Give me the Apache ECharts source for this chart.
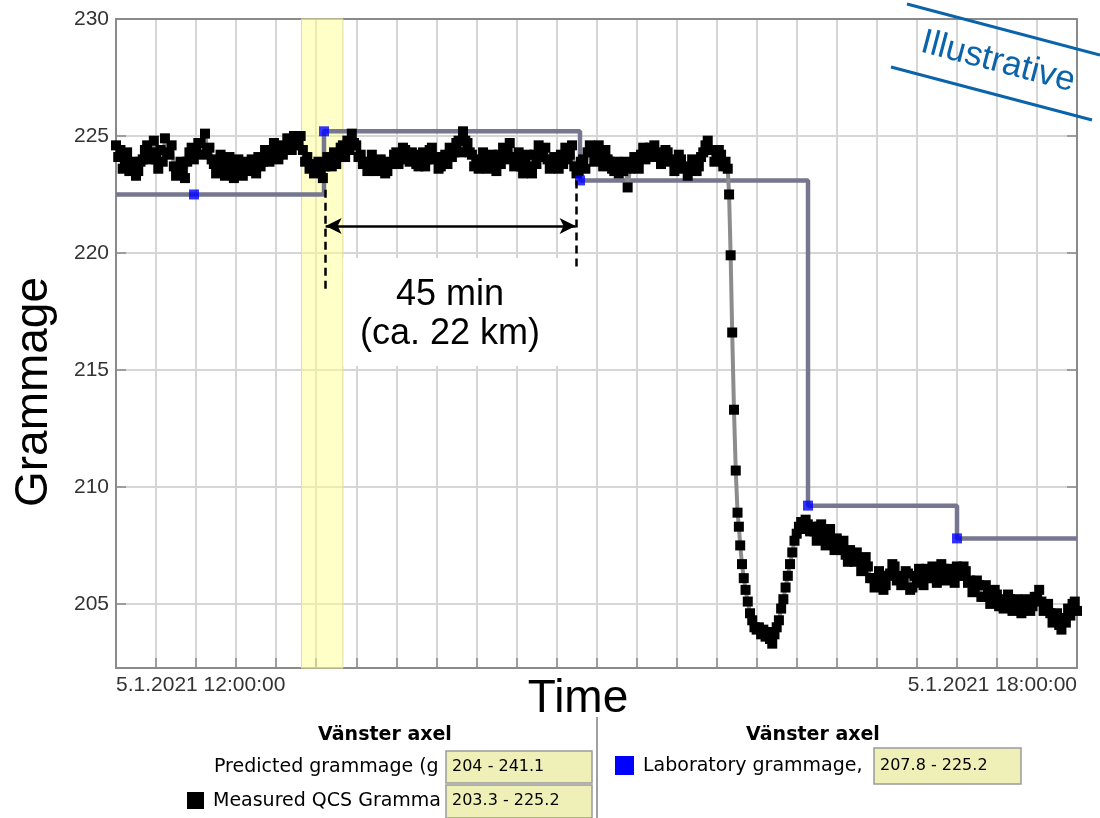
<!DOCTYPE html>
<html><head><meta charset="utf-8">
<script src="https://cdn.jsdelivr.net/npm/echarts@6/dist/echarts.min.js"></script>
<style>html,body{margin:0;padding:0;background:#fff}#c{width:1100px;height:818px}</style>
</head><body><div id="c"></div>
<script>
// x axis: seconds after 5.1.2021 12:00:00
const xTickValues = [0, 21600];
const xTickLabels = ['5.1.2021 12:00:00', '5.1.2021 18:00:00'];

const measTimes = [
0,50,100,150,200,250,300,350,400,450,500,550,600,650,700,750,800,850,900,950,
1000,1050,1100,1150,1200,1250,1300,1350,1400,1450,1500,1550,1600,1650,1700,1750,1800,1850,1900,1950,
2000,2050,2100,2150,2200,2250,2300,2350,2400,2450,2500,2550,2600,2650,2700,2750,2800,2850,2900,2950,
3000,3050,3100,3150,3200,3250,3300,3350,3400,3450,3500,3550,3600,3650,3700,3750,3800,3850,3900,3950,
4000,4050,4100,4150,4200,4250,4300,4350,4400,4450,4500,4550,4600,4650,4700,4750,4800,4850,4900,4950,
5000,5050,5100,5150,5200,5250,5300,5350,5400,5450,5500,5550,5600,5650,5700,5750,5800,5850,5900,5950,
6000,6050,6100,6150,6200,6250,6300,6350,6400,6450,6500,6550,6600,6650,6700,6750,6800,6850,6900,6950,
7000,7050,7100,7150,7200,7250,7300,7350,7400,7450,7500,7550,7600,7650,7700,7750,7800,7850,7900,7950,
8000,8050,8100,8150,8200,8250,8300,8350,8400,8450,8500,8550,8600,8650,8700,8750,8800,8850,8900,8950,
9000,9050,9100,9150,9200,9250,9300,9350,9400,9450,9500,9550,9600,9650,9700,9750,9800,9850,9900,9950,
10000,10050,10100,10150,10200,10250,10300,10350,10400,10450,10500,10550,10600,10650,10700,10750,10800,10850,10900,10950,
11000,11050,11100,11150,11200,11250,11300,11350,11400,11450,11500,11550,11600,11650,11700,11750,11800,11850,11900,11950,
12000,12050,12100,12150,12200,12250,12300,12350,12400,12450,12500,12550,12600,12650,12700,12750,12800,12850,12900,12950,
13000,13050,13100,13150,13200,13250,13300,13350,13400,13450,13500,13550,13600,13650,13700,
13750,13780,13815,13850,13890,13930,13970,14000,14030,14070,14110,14150,14200,14250,14300,14350,14400,14450,14500,14550,
14600,14650,14700,14750,14800,14850,14900,14950,15000,15050,15100,15150,15200,15250,15300,15350,15400,15450,15500,15550,
15600,15650,
15700,15750,15800,15850,15900,15950,16000,16050,16100,16150,16200,16250,16300,16350,16400,16450,16500,16550,16600,16650,
16700,16750,16800,16850,16900,16950,17000,17050,17100,17150,17200,17250,17300,17350,17400,17450,17500,17550,17600,17650,
17700,17750,17800,17850,17900,17950,18000,18050,18100,18150,18200,18250,18300,18350,18400,18450,18500,18550,18600,18650,
18700,18750,18800,18850,18900,18950,19000,19050,19100,19150,19200,19250,19300,19350,19400,19450,19500,19550,19600,19650,
19700,19750,19800,19850,19900,19950,20000,20050,20100,20150,20200,20250,20300,20350,20400,20450,20500,20550,20600,20650,
20700,20750,20800,20850,20900,20950,21000,21050,21100,21150,21200,21250,21300,21350,21400,21450,21500,21550,21600
];
const measValues = [
224.6,224.1,224.4,223.6,223.9,224.3,223.5,223.9,223.8,223.3,223.5,223.9,224.0,224.4,224.6,224.0,224.3,224.8,224.0,223.6,
224.4,223.9,224.9,224.3,224.2,224.6,223.7,223.3,223.4,223.9,223.6,223.2,223.9,224.3,224.5,224.0,224.3,224.7,224.7,224.2,
225.1,224.4,224.5,224.0,223.8,223.4,223.9,224.2,223.6,223.3,223.8,224.1,223.5,223.2,223.7,224.0,223.6,223.3,223.9,223.5,
223.6,224.0,223.8,223.4,224.1,223.7,223.9,224.4,224.3,223.9,224.4,224.7,224.3,224.0,224.6,224.2,224.5,224.9,224.8,224.4,
225.0,224.6,224.7,225.0,224.4,223.9,224.1,223.6,223.8,223.4,223.6,223.9,223.5,223.2,223.7,224.1,224.0,223.7,224.3,223.8,
224.2,224.5,224.6,224.1,224.8,224.4,225.1,224.7,224.6,224.1,224.2,223.8,223.9,223.5,223.8,224.2,223.9,223.5,223.6,224.0,
223.8,223.4,223.5,223.9,223.8,224.2,224.3,223.8,224.1,224.5,224.4,224.0,223.9,224.3,224.2,223.8,223.7,224.1,224.3,223.7,
224.0,224.4,224.5,224.0,224.1,223.6,223.7,224.1,224.2,223.8,224.5,224.1,224.3,224.7,224.8,224.3,225.2,224.8,224.7,224.3,
224.2,223.7,224.0,223.6,223.8,224.3,224.1,223.6,223.8,224.2,223.9,223.5,224.2,223.8,224.5,224.0,224.4,224.7,224.1,223.7,
224.0,224.3,223.7,223.4,223.9,224.2,223.7,223.4,224.2,223.8,224.6,224.1,224.2,224.5,224.0,223.6,223.7,224.1,224.0,223.6,
224.2,223.8,224.5,224.0,224.2,224.6,223.7,223.4,223.5,223.9,224.0,223.6,224.3,224.6,224.4,223.9,224.3,224.6,224.1,223.7,
224.4,224.0,223.9,223.6,223.5,223.9,223.4,223.8,223.5,223.9,222.8,223.6,223.7,224.1,224.0,223.6,224.2,224.5,224.0,224.3,
224.5,224.1,224.6,224.3,224.2,223.8,224.0,224.4,224.3,223.9,224.0,223.5,223.8,224.2,224.0,223.6,223.7,223.3,223.6,224.0,
223.9,223.5,223.7,224.1,224.3,224.6,224.8,224.4,224.4,223.9,224.0,224.4,224.2,223.7,223.9,
223.6,222.5,219.9,216.6,213.3,210.7,208.9,208.3,207.5,206.7,206.1,205.6,205.1,204.6,204.3,204.0,203.9,204.0,203.7,203.9,
203.6,203.8,203.5,203.3,203.7,204.0,204.3,204.8,205.2,205.7,206.2,206.7,207.2,207.7,208.0,208.3,208.5,208.2,208.6,208.4,
208.1,208.3,
208.1,207.7,208.3,208.4,207.9,207.5,208.0,208.2,207.6,207.3,207.8,207.6,207.3,207.7,207.1,206.8,207.3,207.0,206.8,207.2,
206.9,206.4,206.5,207.0,206.6,206.1,206.1,205.7,205.9,206.4,206.2,205.6,205.8,206.2,206.3,206.7,206.6,206.0,206.2,205.8,
205.9,206.4,206.3,205.6,205.7,206.2,205.9,206.5,206.2,205.8,206.5,206.1,206.1,206.6,206.4,205.9,206.2,206.7,206.5,206.0,
206.1,206.5,206.3,205.9,206.6,206.2,206.2,206.6,206.4,205.9,206.0,205.5,205.6,206.0,205.8,205.3,205.3,205.8,205.5,205.0,
205.1,205.6,205.4,204.9,205.2,204.8,204.9,205.4,205.2,204.7,204.8,205.2,205.0,204.6,204.8,205.2,205.1,204.7,204.9,205.3,
205.3,205.6,205.1,204.7,204.8,205.0,204.6,204.2,204.3,204.6,204.1,203.9,204.4,204.2,204.8,204.5,205.0,205.1,204.7
];

const labTimes = [1753, 4675, 10429, 15554, 18903];
const labValues = [222.5, 225.2, 223.1, 209.2, 207.8];

const predTimes = [0, 4675, 10429, 15554, 18903, 21600];
const predValues = [222.5, 225.2, 223.1, 209.2, 207.8, 207.8];
const predRangeText = '204 - 241.1';

// highlighted period and the "45 min" annotation (data coordinates)
const bandTimes = [4170, 5100];
const dashLeft = [4698, 222.7, 218.4];
const dashRight = [10339, 223.1, 219.3];
const arrowSpan = [4712, 10330, 221.15];

const zip = (a, b) => a.map((v, i) => [v, b[i]]);
const measMin = Math.min(...measValues), measMax = Math.max(...measValues);
const labMin = Math.min(...labValues), labMax = Math.max(...labValues);

const chart = echarts.init(document.getElementById('c'), null, {renderer: 'canvas'});
const axisGray = '#8a8a8a';
const gridGray = '#d6d6d6';
const lblFont = 'Liberation Sans';
const lgFont = 'DejaVu Sans';

const option = {
  animation: false,
  backgroundColor: '#ffffff',
  grid: {left: 116, right: 23, top: 19, bottom: 150, containLabel: false},
  xAxis: [{
    type: 'value', min: 0, max: 21600, interval: 900,
    axisLine: {show: true, onZero: false, lineStyle: {color: axisGray, width: 2}},
    axisTick: {show: true, inside: true, length: 10, lineStyle: {color: axisGray, width: 1.5}},
    splitLine: {show: true, lineStyle: {color: gridGray, width: 2}},
    axisLabel: {
      show: true, margin: 7, color: '#333', fontFamily: lblFont, fontSize: 21,
      alignMinLabel: 'left', alignMaxLabel: 'right',
      formatter: v => { const i = xTickValues.indexOf(v); return i >= 0 ? xTickLabels[i] : ''; }
    }
  }, {
    type: 'value', position: 'top', min: 0, max: 21600, interval: 900,
    axisLine: {show: true, onZero: false, lineStyle: {color: axisGray, width: 2}},
    axisTick: {show: false}, axisLabel: {show: false}, splitLine: {show: false}
  }],
  yAxis: [{
    type: 'value', min: 202.26, max: 230, minInterval: 5, maxInterval: 5,
    axisLine: {show: true, onZero: false, lineStyle: {color: axisGray, width: 2}},
    axisTick: {show: true, inside: true, length: 10, lineStyle: {color: axisGray, width: 1.5}},
    splitLine: {show: true, lineStyle: {color: gridGray, width: 2}},
    axisLabel: {
      margin: 7, color: '#333', fontFamily: lblFont, fontSize: 21,
      formatter: v => (Math.abs(v / 5 - Math.round(v / 5)) < 1e-6 ? String(Math.round(v)) : '')
    }
  }, {
    type: 'value', position: 'right', min: 202.26, max: 230, minInterval: 5, maxInterval: 5,
    axisLine: {show: true, onZero: false, lineStyle: {color: axisGray, width: 2}},
    axisTick: {show: true, inside: true, length: 10, lineStyle: {color: axisGray, width: 1.5}},
    axisLabel: {show: false}, splitLine: {show: false}
  }],
  series: [
    {
      name: 'band', type: 'line', data: [], z: 1, silent: true,
      markArea: {
        silent: true,
        itemStyle: {color: 'rgba(255,255,140,0.48)', borderColor: '#e4dc98', borderWidth: 1},
        data: [[{xAxis: bandTimes[0]}, {xAxis: bandTimes[1]}]]
      }
    },
    {
      name: 'Predicted grammage', type: 'line', step: 'end', z: 2,
      data: zip(predTimes, predValues), symbol: 'none',
      lineStyle: {color: '#76768f', width: 4.5}
    },
    {
      name: 'Measured QCS Grammage', type: 'line', z: 3,
      data: zip(measTimes, measValues),
      symbol: 'rect', symbolSize: 10, showAllSymbol: true,
      itemStyle: {color: '#000'},
      lineStyle: {color: '#8c8c8c', width: 4}
    },
    {
      name: 'Laboratory grammage', type: 'scatter', z: 4,
      data: zip(labTimes, labValues), symbol: 'rect', symbolSize: 10,
      itemStyle: {color: '#0000ff'},
      markLine: {
        silent: true, symbol: ['none', 'none'], label: {show: false},
        lineStyle: {color: '#000', width: 2.5, type: [8, 5]},
        emphasis: {disabled: true},
        data: [
          [{coord: [dashLeft[0], dashLeft[1]]}, {coord: [dashLeft[0], dashLeft[2]]}],
          [{coord: [dashRight[0], dashRight[1]]}, {coord: [dashRight[0], dashRight[2]]}],
          [{coord: [arrowSpan[0], arrowSpan[2]], symbol: 'arrow', symbolSize: [12, 16],
            lineStyle: {type: 'solid', width: 2.5, color: '#000'}},
           {coord: [arrowSpan[1], arrowSpan[2]], symbol: 'arrow', symbolSize: [12, 16]}]
        ]
      }
    }
  ],
  graphic: [
    // axis titles
    {type: 'text', x: 34, y: 392, rotation: Math.PI / 2, silent: true,
     style: {text: 'Grammage', fontSize: 46, fontFamily: lblFont, fill: '#000', align: 'center', verticalAlign: 'middle'}},
    {type: 'text', x: 578, y: 699, silent: true,
     style: {text: 'Time', fontSize: 46, fontFamily: lblFont, fill: '#000', align: 'center', verticalAlign: 'middle'}},
    // annotation box
    {type: 'rect', shape: {x: 343, y: 258, width: 232, height: 108}, style: {fill: '#fff'}, z: 5, silent: true},
    {type: 'text', x: 450, y: 295, z: 6, silent: true,
     style: {text: '45 min', fontSize: 36, fontFamily: lblFont, fill: '#000', align: 'center', verticalAlign: 'middle'}},
    {type: 'text', x: 450, y: 334, z: 6, silent: true,
     style: {text: '(ca. 22 km)', fontSize: 36, fontFamily: lblFont, fill: '#000', align: 'center', verticalAlign: 'middle'}},
    // Illustrative stamp
    {type: 'line', shape: {x1: 907, y1: 4, x2: 1100, y2: 55}, style: {stroke: '#0b64aa', lineWidth: 3}, z: 10, silent: true},
    {type: 'line', shape: {x1: 891, y1: 67, x2: 1092, y2: 120}, style: {stroke: '#0b64aa', lineWidth: 3}, z: 10, silent: true},
    {type: 'text', x: 998, y: 62, rotation: -0.258, z: 10, silent: true,
     style: {text: 'Illustrative', fontSize: 35, fontFamily: lblFont, fill: '#0b64aa', align: 'center', verticalAlign: 'middle'}},
    // legend - left panel
    {type: 'text', x: 385, y: 735, silent: true,
     style: {text: 'Vänster axel', fontSize: 19, fontWeight: 'bold', fontFamily: lgFont, fill: '#000', align: 'center', verticalAlign: 'middle'}},
    {type: 'text', x: 214, y: 767, silent: true,
     style: {text: 'Predicted grammage (g', fontSize: 19, fontFamily: lgFont, fill: '#000', align: 'left', verticalAlign: 'middle'}},
    {type: 'rect', shape: {x: 446, y: 751, width: 146, height: 32}, style: {fill: '#efefb8', stroke: '#9a9a9a', lineWidth: 1.5}, silent: true},
    {type: 'text', x: 452, y: 767, silent: true,
     style: {text: predRangeText, fontSize: 16, fontFamily: lgFont, fill: '#000', align: 'left', verticalAlign: 'middle'}},
    {type: 'rect', shape: {x: 187, y: 792, width: 17, height: 17}, style: {fill: '#000'}, silent: true},
    {type: 'text', x: 213, y: 801, silent: true,
     style: {text: 'Measured QCS Gramma', fontSize: 19, fontFamily: lgFont, fill: '#000', align: 'left', verticalAlign: 'middle'}},
    {type: 'rect', shape: {x: 446, y: 785, width: 146, height: 33}, style: {fill: '#efefb8', stroke: '#9a9a9a', lineWidth: 1.5}, silent: true},
    {type: 'text', x: 452, y: 801, silent: true,
     style: {text: measMin.toFixed(1) + ' - ' + measMax.toFixed(1), fontSize: 16, fontFamily: lgFont, fill: '#000', align: 'left', verticalAlign: 'middle'}},
    {type: 'line', shape: {x1: 597, y1: 717, x2: 597, y2: 818}, style: {stroke: '#a0a0a0', lineWidth: 2}, silent: true},
    // legend - right panel
    {type: 'text', x: 813, y: 735, silent: true,
     style: {text: 'Vänster axel', fontSize: 19, fontWeight: 'bold', fontFamily: lgFont, fill: '#000', align: 'center', verticalAlign: 'middle'}},
    {type: 'rect', shape: {x: 615, y: 756, width: 19, height: 19}, style: {fill: '#0000ff'}, silent: true},
    {type: 'text', x: 643, y: 766, silent: true,
     style: {text: 'Laboratory grammage,', fontSize: 19, fontFamily: lgFont, fill: '#000', align: 'left', verticalAlign: 'middle'}},
    {type: 'rect', shape: {x: 874, y: 748, width: 147, height: 36}, style: {fill: '#efefb8', stroke: '#9a9a9a', lineWidth: 1.5}, silent: true},
    {type: 'text', x: 880, y: 766, silent: true,
     style: {text: labMin.toFixed(1) + ' - ' + labMax.toFixed(1), fontSize: 16, fontFamily: lgFont, fill: '#000', align: 'left', verticalAlign: 'middle'}}
  ]
};
chart.setOption(option);
</script>
</body></html>
